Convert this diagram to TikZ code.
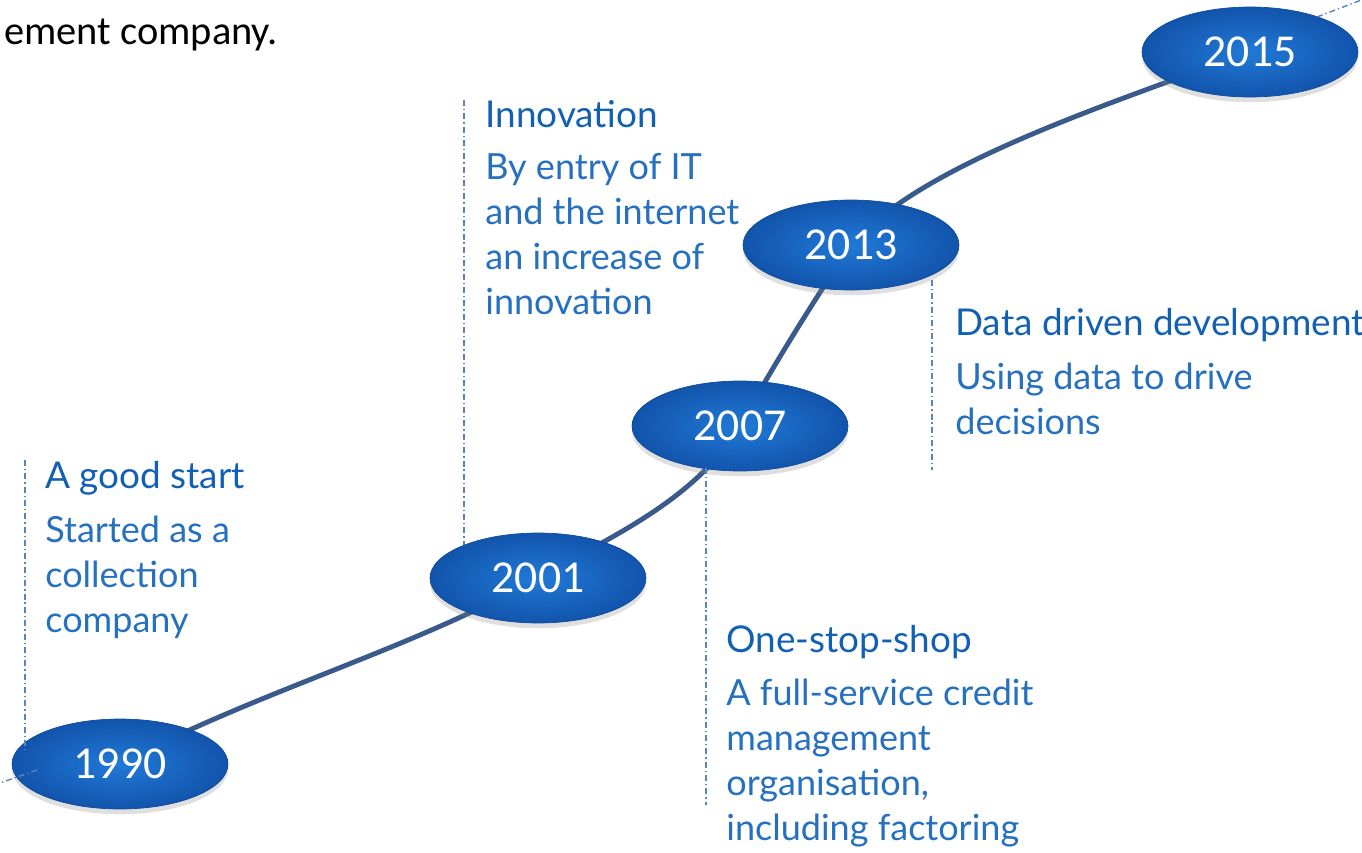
\documentclass[tikz,border=0pt]{standalone}
\usepackage{fontspec}
\usepackage{tikz}
\usetikzlibrary{shapes.geometric,shadows,backgrounds}
\setmainfont{Lato}
\newfontfamily\yearfont{Carlito}
\definecolor{yearin}{RGB}{32,122,215}
\definecolor{yearout}{RGB}{18,84,172}
\definecolor{pathblue}{RGB}{58,90,140}
\definecolor{noteblue}{RGB}{18,96,180}
\definecolor{bodyblue}{RGB}{38,112,192}
\definecolor{guideblue}{RGB}{88,132,192}

\begin{document}
\begin{tikzpicture}[x=0.02cm,y=-0.02cm,
  year/.style={ellipse, minimum width=4.32cm, minimum height=1.8cm, inner sep=0pt,
    shading=radial, inner color=yearin, outer color=yearout, draw=yearout!90!black, thin,
    drop shadow={shadow xshift=0pt, shadow yshift=-3pt, opacity=0.25},
    text=white, font=\yearfont\fontsize{26}{30}\selectfont},
  headline/.style={anchor=base west, inner sep=0pt, text=noteblue,
    font=\fontsize{21}{25}\selectfont},
  note/.style={anchor=north west, align=left, inner sep=0pt, text=bodyblue,
    font=\fontsize{20.5}{25.6}\selectfont},
  guide/.style={guideblue, line width=0.8pt, dash pattern=on 3.4pt off 1.7pt on 0.8pt off 1.7pt},
  timeline/.style={pathblue, line width=2.8pt}]
\useasboundingbox (0,0) rectangle (1362,852);
\clip (0,0) rectangle (1362,852);

\node[anchor=base east, inner sep=0pt, font=\yearfont\fontsize{23}{28}\selectfont] (intro) at (278,44) {ement company.};

% years
\node[year] (y1990) at (120,764) {1990};
\node[year] (y2001) at (538,578) {2001};
\node[year] (y2007) at (740,426) {2007};
\node[year] (y2013) at (851,245) {2013};
\node[year] (y2015) at (1250,52) {2015};

\begin{scope}[on background layer]
\draw [timeline] (y1990.center) .. controls (260,690) and (410,650) .. (y2001.center)
  .. controls (608,538) and (695,501) .. (y2007.center)
  .. controls (770,371) and (811,305) .. (y2013.center)
  .. controls (921,165) and (1100,107) .. (y2015.center);
\end{scope}

% guide lines
\coordinate (g1990) at (25,460);
\coordinate (g1990e) at (25,750);
\coordinate (g2001) at (464,100);
\coordinate (g2001e) at (464,545);
\coordinate (g2007) at (706,468);
\coordinate (g2007e) at (706,805);
\coordinate (g2013) at (932,280);
\coordinate (g2013e) at (932,470);
\coordinate (tail) at (0,783);
\coordinate (taile) at (37,770);
\coordinate (head) at (1317,17);
\coordinate (heade) at (1364,-1);
\draw [guide] (g1990) -- (g1990e);
\draw [guide] (g2001) -- (g2001e);
\draw [guide] (g2007) -- (g2007e);
\draw [guide] (g2013) -- (g2013e);
\draw [guide] (taile) -- (tail);
\draw [guide] (head) -- (heade);

% captions
\node[headline] (t1990) at (45,488) {A good start};
\node[note] (n1990) at (45,516) {Started as a\\collection\\company};
\node[headline] (t2001) at (485,127) {Innovation};
\node[note] (n2001) at (485,153) {By entry of IT\\and the internet\\an increase of\\innovation};
\node[headline] (t2013) at (955,335) {Data driven development};
\node[note] (n2013) at (955,363) {Using data to drive\\decisions};
\node[headline] (t2007) at (726,652) {One-stop-shop};
\node[note] (n2007) at (726,679) {A full-service credit\\management\\organisation,\\including factoring};

\end{tikzpicture}
\end{document}
